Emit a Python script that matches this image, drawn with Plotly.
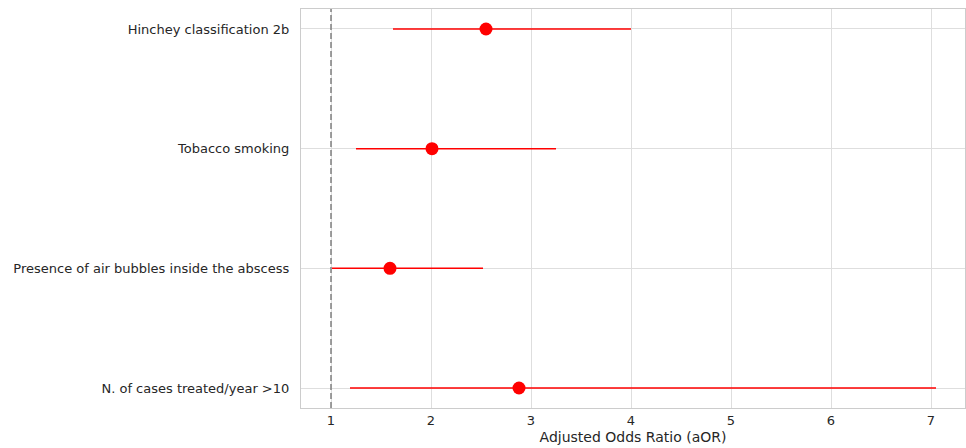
import plotly.graph_objects as go

variables = ["N. of cases treated/year >10",
             "Presence of air bubbles inside the abscess",
             "Tobacco smoking",
             "Hinchey classification 2b"]
aor = [2.88, 1.59, 2.01, 2.55]
ci_low = [1.19, 1.01, 1.25, 1.62]
ci_high = [7.05, 2.52, 3.25, 4.00]
x_ticks = [1, 2, 3, 4, 5, 6, 7]

ypos = list(range(len(variables)))
err_plus = [h - a for h, a in zip(ci_high, aor)]
err_minus = [a - l for a, l in zip(aor, ci_low)]

fig = go.Figure()
fig.add_trace(go.Scatter(
    x=aor, y=ypos, mode="markers",
    marker=dict(color="#ff0000", size=13),
    error_x=dict(type="data", symmetric=False, array=err_plus, arrayminus=err_minus,
                 color="#ff0000", thickness=1.5, width=0),
    showlegend=False,
))
fig.add_vline(x=1, line=dict(color="#808080", width=1.5, dash="6px,3px"))

fig.update_layout(
    width=966, height=448,
    margin=dict(l=301, r=1, t=9, b=40),
    paper_bgcolor="white", plot_bgcolor="white",
    font=dict(family="DejaVu Sans", size=13, color="#262626"),
)
fig.update_xaxes(range=[0.70, 7.34], tickvals=x_ticks, ticks="", showgrid=True,
                 gridcolor="#dedede", gridwidth=1, zeroline=False, automargin=False,
                 showline=True, linecolor="#cccccc", linewidth=1.2, mirror=True,
                 title=dict(text="Adjusted Odds Ratio (aOR)", font=dict(size=14), standoff=5),
                 tickfont=dict(size=13))
fig.update_yaxes(range=[-0.167, 3.167], tickvals=ypos, ticktext=variables, ticks="",
                 showgrid=True, gridcolor="#dedede", gridwidth=1, zeroline=False, automargin=False,
                 showline=True, linecolor="#cccccc", linewidth=1.2, mirror=True,
                 ticklabelstandoff=8, tickfont=dict(size=13))

fig.write_html("out.html", config={"displayModeBar": False},
               post_script="document.body.style.margin='0';document.body.style.overflow='hidden';")
